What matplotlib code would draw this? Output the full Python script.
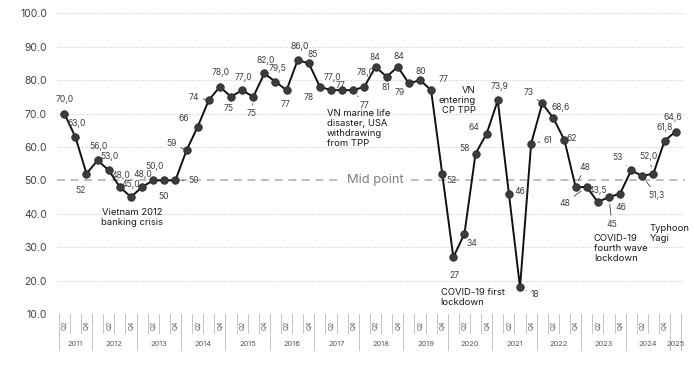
import matplotlib
matplotlib.use("Agg")
import matplotlib.pyplot as plt

# ---------------- data ----------------
quarter_labels = ["Q2", "Q3", "Q4"] + ["Q1", "Q2", "Q3", "Q4"] * 13 + ["Q1"]
year_labels = [str(y) for y in range(2011, 2026)]
year_counts = [3] + [4] * 13 + [1]

values = [70.0, 63.0, 52, 56.0, 53.0, 48.0, 45.0, 48.0, 50.0, 50, 50,
          59, 66, 74, 78.0, 75, 77.0, 75, 82.0, 79.5, 77, 86.0, 85,
          78, 77.0, 77, 77, 78.0, 84, 81, 84, 79, 80, 77, 52,
          27, 34, 58, 64, 73.9, 46, 18, 61, 73, 68.6, 62, 48,
          48, 43.5, 45, 46, 53, 51.3, 52.0, 61.8, 64.6]

value_labels = ["70,0", "63,0", "52", "56,0", "53,0", "48,0", "45,0", "48,0", "50,0", "50", "50",
                "59", "66", "74", "78,0", "75", "77,0", "75", "82,0", "79,5", "77", "86,0", "85",
                "78", "77,0", "77", "77", "78,0", "84", "81", "84", "79", "80", "77", "52",
                "27", "34", "58", "64", "73,9", "46", "18", "61", "73", "68,6", "62", "48",
                "48", "43,5", "45", "46", "53", "51,3", "52,0", "61,8", "64,6"]

mid_value = 50
y_ticks = [10, 20, 30, 40, 50, 60, 70, 80, 90, 100]

events = ["Vietnam 2012\nbanking crisis",
          "VN marine life\ndisaster, USA\nwithdrawing\nfrom TPP",
          "VN\nentering\nCP TPP",
          "COVID-19 first\nlockdown",
          "COVID-19\nfourth wave\nlockdown",
          "Typhoon\nYagi"]

# ---------------- style / placement ----------------
# label offsets in pixels (dx, dy) with dy positive = up
label_offsets = [(0, 14), (1, 13), (-6, -17), (1, 14), (1, 14), (1, 12), (0, 13), (1, 13), (1, 14), (-1, -16), (18, 0),
                 (-15, 7), (-14, 8), (-15, 3), (1, 14), (-2, -12), (1, 13), (-2, -17), (1, 13), (2, 13), (-1, -14), (2, 14), (4, 9),
                 (-11, -11), (1, 13), (-2, 5), (11, -15), (1, 14), (-1, 9), (-1, -11), (1, 10), (-9, -9), (1, 9), (12, 11), (9, -7),
                 (1, -18), (8, -10), (-11, 5), (-13, 6), (2, 14), (11, 2), (15, -7), (17, 3), (-14, 11), (7, 11), (7, 2), (9, 20),
                 (-22, -16), (0, 12), (3, -27), (1, -14), (-14, 13), (14, -19), (-5, 17), (0, 13), (-3, 14)]
leaders = {10, 11, 13, 17, 26, 41, 42, 43, 46, 47, 49, 51, 52, 53}

FONT = ["Inter", "DejaVu Sans"]
plt.rcParams["font.family"] = FONT

fig = plt.figure(figsize=(6.94, 3.66), dpi=100)
ax = fig.add_axes([0.0817, 0.1421, 0.9053, 0.8216])

x = list(range(len(values)))
ax.set_xlim(-0.68, 55.84)
ax.set_ylim(10, 100)

# gridlines
for yv in y_ticks[1:]:
    if yv == mid_value:
        continue
    ax.axhline(yv, color="#d2d2d2", lw=0.8, ls=(0, (1, 1.2)), zorder=0)
ax.axhline(mid_value, color="#bdbdbd", lw=1.4, ls=(0, (4, 3)), zorder=0)
ax.text(27.94, mid_value, "Mid point", ha="center", va="center", fontsize=9.3,
        color="#7f7f7f", zorder=1,
        bbox=dict(boxstyle="square,pad=0.25", fc="white", ec="none"))

# series
ax.plot(x, values, color="#111111", lw=1.4, zorder=3,
        marker="o", markersize=5.4, markerfacecolor="#3c3c3c", markeredgecolor="#2a2a2a",
        markeredgewidth=0.6)

# data labels
for i, (v, lab) in enumerate(zip(values, value_labels)):
    dx, dy = label_offsets[i]
    kw = {}
    if i in leaders:
        kw["arrowprops"] = dict(arrowstyle="-", color="#404040", lw=0.6,
                                shrinkA=1, shrinkB=5)
    ax.annotate(lab, (i, v), xytext=(dx, dy), textcoords="offset pixels",
                ha="center", va="center", fontsize=6.2, color="#404040",
                zorder=4, **kw)

# event annotations
ev_pos = [(6.13, 39.0, "center"), (23.6, 65.4, "left"), (37.02, 73.9, "right"),
          (33.85, 14.8, "left"), (47.64, 29.5, "left"), (52.67, 34.2, "left")]
for txt, (ex, ey, ha) in zip(events, ev_pos):
    ax.text(ex, ey, txt, ha=ha, va="center", fontsize=6.8, color="#1a1a1a",
            linespacing=1.15, multialignment=ha)

# y axis
ax.set_yticks(y_ticks)
ax.set_yticklabels([f"{t:.1f}" for t in y_ticks], fontsize=7.5, color="#404040")
ax.tick_params(axis="y", length=0, pad=7)
ax.set_xticks([])
for s in ax.spines.values():
    s.set_visible(False)

# multi-level category axis drawn below the plot
trans = ax.get_xaxis_transform()
tick_col = "#c4c4c4"
for i in range(len(values) + 1):
    xb = i - 0.5
    ax.plot([xb, xb], [0, -0.063], transform=trans, color=tick_col, lw=0.7, clip_on=False)
for i, q in enumerate(quarter_labels):
    if q in ("Q2", "Q4"):
        ax.text(i, -0.037, q, transform=trans, rotation=90, ha="center", va="center",
                fontsize=4.8, color="#595959", clip_on=False)
start = 0
for yl, cnt in zip(year_labels, year_counts):
    ax.plot([start - 0.5, start - 0.5], [0, -0.12], transform=trans, color=tick_col, lw=0.7, clip_on=False)
    ax.text(start + (cnt - 1) / 2, -0.10, yl, transform=trans, ha="center", va="center",
            fontsize=5.4, color="#595959", clip_on=False)
    start += cnt
ax.plot([start - 0.5, start - 0.5], [0, -0.12], transform=trans, color=tick_col, lw=0.7, clip_on=False)

fig.savefig("out.png", dpi=100)
